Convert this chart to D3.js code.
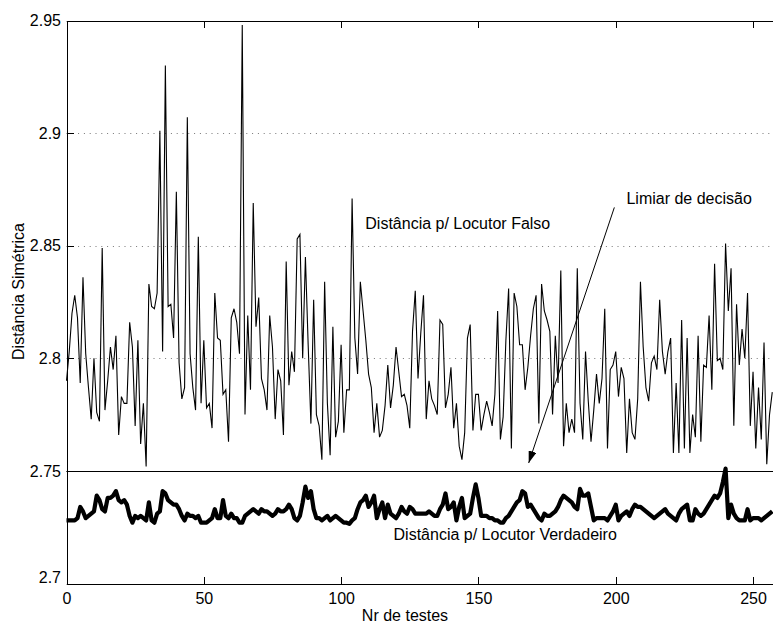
<!DOCTYPE html>
<html>
<head>
<meta charset="utf-8">
<script src="https://cdn.jsdelivr.net/npm/d3@7"></script>
<style>
body { margin: 0; background: #fff; }
svg { display: block; font-family: "Liberation Sans", Arial, Helvetica, sans-serif; }
</style>
</head>
<body>
<svg id="chart" width="773" height="624"></svg>
<script>
'use strict';

var xTicks = [0, 50, 100, 150, 200, 250];
var yTicks = [2.7, 2.75, 2.8, 2.85, 2.9, 2.95];
var threshold = 2.75;

// distance to the impostor model, one value per test
var falseSpeaker = [
	2.790, 2.803, 2.820, 2.828, 2.818, 2.789, 2.836, 2.802, 2.787, 2.773,
	2.800, 2.776, 2.772, 2.849, 2.777, 2.790, 2.805, 2.795, 2.810, 2.766,
	2.783, 2.780, 2.780, 2.816, 2.805, 2.770, 2.808, 2.762, 2.780, 2.752,
	2.833, 2.823, 2.822, 2.829, 2.901, 2.803, 2.930, 2.823, 2.824, 2.809,
	2.874, 2.798, 2.782, 2.787, 2.907, 2.802, 2.787, 2.777, 2.854, 2.780,
	2.808, 2.778, 2.780, 2.769, 2.829, 2.809, 2.808, 2.784, 2.786, 2.763,
	2.818, 2.822, 2.816, 2.802, 2.948, 2.775, 2.819, 2.786, 2.869, 2.814,
	2.827, 2.791, 2.786, 2.777, 2.819, 2.805, 2.773, 2.795, 2.790, 2.766,
	2.843, 2.788, 2.803, 2.794, 2.853, 2.855, 2.800, 2.845, 2.806, 2.771,
	2.826, 2.775, 2.770, 2.755, 2.834, 2.780, 2.757, 2.814, 2.765, 2.772,
	2.806, 2.767, 2.786, 2.786, 2.871, 2.809, 2.793, 2.834, 2.821, 2.808,
	2.793, 2.787, 2.767, 2.780, 2.765, 2.768, 2.779, 2.797, 2.778, 2.788,
	2.805, 2.794, 2.783, 2.784, 2.779, 2.769, 2.812, 2.830, 2.791, 2.811,
	2.828, 2.773, 2.790, 2.782, 2.779, 2.775, 2.817, 2.815, 2.778, 2.784,
	2.796, 2.769, 2.780, 2.761, 2.755, 2.767, 2.809, 2.815, 2.768, 2.784,
	2.784, 2.768, 2.775, 2.781, 2.776, 2.770, 2.784, 2.821, 2.764, 2.774,
	2.808, 2.831, 2.760, 2.829, 2.823, 2.806, 2.806, 2.786, 2.796, 2.810,
	2.822, 2.828, 2.771, 2.833, 2.821, 2.817, 2.812, 2.775, 2.810, 2.789,
	2.839, 2.761, 2.780, 2.767, 2.773, 2.767, 2.840, 2.780, 2.764, 2.803,
	2.781, 2.763, 2.777, 2.793, 2.780, 2.791, 2.822, 2.760, 2.795, 2.797,
	2.803, 2.783, 2.796, 2.791, 2.758, 2.782, 2.767, 2.764, 2.782, 2.834,
	2.805, 2.787, 2.781, 2.798, 2.801, 2.795, 2.826, 2.803, 2.793, 2.803,
	2.809, 2.758, 2.789, 2.758, 2.817, 2.760, 2.809, 2.758, 2.775, 2.765,
	2.810, 2.763, 2.797, 2.796, 2.819, 2.786, 2.842, 2.799, 2.800, 2.795,
	2.851, 2.821, 2.840, 2.770, 2.824, 2.797, 2.813, 2.800, 2.829, 2.770,
	2.794, 2.760, 2.787, 2.764, 2.807, 2.753, 2.775, 2.785
];

// distance to the true speaker model
var trueSpeaker = [
	2.728, 2.728, 2.728, 2.728, 2.729, 2.734, 2.732, 2.729, 2.730, 2.731,
	2.732, 2.739, 2.737, 2.733, 2.732, 2.738, 2.738, 2.739, 2.741, 2.737,
	2.736, 2.737, 2.735, 2.730, 2.727, 2.730, 2.729, 2.730, 2.729, 2.728,
	2.736, 2.728, 2.727, 2.731, 2.732, 2.741, 2.740, 2.737, 2.736, 2.735,
	2.735, 2.733, 2.730, 2.728, 2.731, 2.730, 2.730, 2.729, 2.730, 2.727,
	2.727, 2.727, 2.728, 2.729, 2.733, 2.729, 2.729, 2.737, 2.730, 2.729,
	2.731, 2.729, 2.729, 2.727, 2.727, 2.730, 2.731, 2.732, 2.733, 2.732,
	2.731, 2.733, 2.732, 2.732, 2.731, 2.730, 2.731, 2.733, 2.732, 2.732,
	2.733, 2.735, 2.733, 2.729, 2.728, 2.730, 2.736, 2.743, 2.738, 2.741,
	2.733, 2.729, 2.729, 2.728, 2.729, 2.730, 2.728, 2.729, 2.730, 2.729,
	2.728, 2.727, 2.727, 2.7265, 2.728, 2.729, 2.733, 2.736, 2.737, 2.739,
	2.734, 2.736, 2.739, 2.729, 2.733, 2.736, 2.729, 2.735, 2.731, 2.730,
	2.729, 2.731, 2.734, 2.732, 2.731, 2.734, 2.733, 2.731, 2.731, 2.731,
	2.731, 2.731, 2.732, 2.731, 2.730, 2.730, 2.733, 2.735, 2.740, 2.733,
	2.734, 2.736, 2.728, 2.734, 2.738, 2.729, 2.730, 2.731, 2.738, 2.744,
	2.738, 2.730, 2.730, 2.730, 2.729, 2.729, 2.728, 2.728, 2.727, 2.727,
	2.729, 2.730, 2.732, 2.734, 2.736, 2.737, 2.741, 2.740, 2.734, 2.735,
	2.733, 2.731, 2.729, 2.728, 2.731, 2.730, 2.730, 2.731, 2.732, 2.734,
	2.737, 2.739, 2.738, 2.737, 2.736, 2.734, 2.733, 2.742, 2.739, 2.739,
	2.740, 2.734, 2.728, 2.729, 2.729, 2.729, 2.729, 2.728, 2.730, 2.732,
	2.735, 2.728, 2.730, 2.731, 2.732, 2.730, 2.733, 2.735, 2.734, 2.734,
	2.733, 2.732, 2.731, 2.730, 2.729, 2.730, 2.731, 2.732, 2.733, 2.731,
	2.730, 2.729, 2.728, 2.731, 2.733, 2.734, 2.735, 2.728, 2.728, 2.733,
	2.731, 2.730, 2.731, 2.733, 2.735, 2.737, 2.739, 2.738, 2.740, 2.745,
	2.751, 2.729, 2.735, 2.731, 2.729, 2.728, 2.728, 2.728, 2.733, 2.728,
	2.729, 2.729, 2.729, 2.728, 2.729, 2.730, 2.731, 2.732
];

// text annotations, anchored in data units
var labelFalse = { text: 'Distância p/ Locutor Falso', x: 108.8, y: 2.8576 };
var labelTrue = { text: 'Distância p/ Locutor Verdadeiro', x: 119.1, y: 2.7195 };
var labelThreshold = { text: 'Limiar de decisão', x: 203.9, y: 2.8686 };
var arrowFrom = [199.5, 2.867];
var arrowTo = [168.3, 2.7535];

var svg = d3.select('#chart');
var fontSize = 16;

var x = d3.scaleLinear().domain([0, 260]).range([66.5, 780.5]);
var y = d3.scaleLinear().domain([2.7, 2.95]).range([583.5, 20.5]);

svg.append('defs')
	.append('marker')
	.attr('id', 'head')
	.attr('viewBox', '0 0 12 8')
	.attr('refX', 12)
	.attr('refY', 4)
	.attr('markerWidth', 12)
	.attr('markerHeight', 8)
	.attr('markerUnits', 'userSpaceOnUse')
	.attr('orient', 'auto')
	.append('path')
	.attr('d', 'M0,0L12,4L0,8Z')
	.attr('fill', '#000');

// dotted horizontal grid
svg.append('g')
	.selectAll('line')
	.data(yTicks)
	.enter()
	.append('line')
	.attr('x1', x(0))
	.attr('x2', x(260))
	.attr('y1', function(d) { return Math.round(y(d)) + 0.5; })
	.attr('y2', function(d) { return Math.round(y(d)) + 0.5; })
	.attr('stroke', '#777')
	.attr('stroke-width', 1)
	.attr('stroke-dasharray', '1,4.8');

// decision threshold
svg.append('line')
	.attr('x1', x(0))
	.attr('x2', x(260))
	.attr('y1', Math.round(y(threshold)) + 0.5)
	.attr('y2', Math.round(y(threshold)) + 0.5)
	.attr('stroke', '#000')
	.attr('stroke-width', 1);

var line = d3.line()
	.x(function(d, i) { return x(i); })
	.y(function(d) { return y(d); });

svg.append('path')
	.datum(falseSpeaker)
	.attr('d', line)
	.attr('fill', 'none')
	.attr('stroke', '#000')
	.attr('stroke-width', 1.1)
	.attr('stroke-linejoin', 'miter');

svg.append('path')
	.datum(trueSpeaker)
	.attr('d', line)
	.attr('fill', 'none')
	.attr('stroke', '#000')
	.attr('stroke-width', 4.2)
	.attr('stroke-linejoin', 'round');

// box axes with inward ticks (matlab style)
var styleAxis = function(g) {
	g.selectAll('path, line')
		.attr('stroke', '#000')
		.attr('stroke-width', 1)
		.attr('shape-rendering', 'crispEdges');
	g.selectAll('text')
		.attr('fill', '#000')
		.style('font-size', fontSize + 'px')
		.style('font-family', '"Liberation Sans", Arial, Helvetica, sans-serif');
	return g;
};

svg.append('g')
	.attr('transform', 'translate(0,' + y(2.7) + ')')
	.call(d3.axisBottom(x).tickValues(xTicks).tickSizeInner(-7).tickSizeOuter(0).tickPadding(9))
	.call(styleAxis);

svg.append('g')
	.attr('transform', 'translate(0,' + y(2.95) + ')')
	.call(d3.axisTop(x).tickValues(xTicks).tickSizeInner(-7).tickSizeOuter(0).tickFormat(''))
	.call(styleAxis);

var left = svg.append('g')
	.attr('transform', 'translate(' + x(0) + ',0)')
	.call(d3.axisLeft(y).tickValues(yTicks).tickSizeInner(-7).tickSizeOuter(0).tickPadding(5.5).tickFormat(String))
	.call(styleAxis);

// lowest label sits a little higher so it clears the "0"
left.selectAll('.tick')
	.filter(function(d) { return d === 2.7; })
	.select('text')
	.attr('y', -6);

svg.append('g')
	.attr('transform', 'translate(' + x(260) + ',0)')
	.call(d3.axisRight(y).tickValues(yTicks).tickSizeInner(-7).tickSizeOuter(0).tickFormat(''))
	.call(styleAxis);

svg.selectAll('.domain').attr('fill', 'none');

// axis titles
svg.append('text')
	.attr('x', 405)
	.attr('y', 621)
	.attr('text-anchor', 'middle')
	.style('font-size', fontSize + 'px')
	.text('Nr de testes');

svg.append('text')
	.attr('transform', 'translate(24,291.5) rotate(-90)')
	.attr('text-anchor', 'middle')
	.style('font-size', fontSize + 'px')
	.text('Distância Simétrica');

// annotations
[labelFalse, labelTrue, labelThreshold].forEach(function(d) {
	svg.append('text')
		.attr('x', x(d.x))
		.attr('y', y(d.y))
		.style('font-size', fontSize + 'px')
		.text(d.text);
});

svg.append('line')
	.attr('x1', x(arrowFrom[0]))
	.attr('y1', y(arrowFrom[1]))
	.attr('x2', x(arrowTo[0]))
	.attr('y2', y(arrowTo[1]))
	.attr('stroke', '#000')
	.attr('stroke-width', 1)
	.attr('marker-end', 'url(#head)');
</script>
</body>
</html>
